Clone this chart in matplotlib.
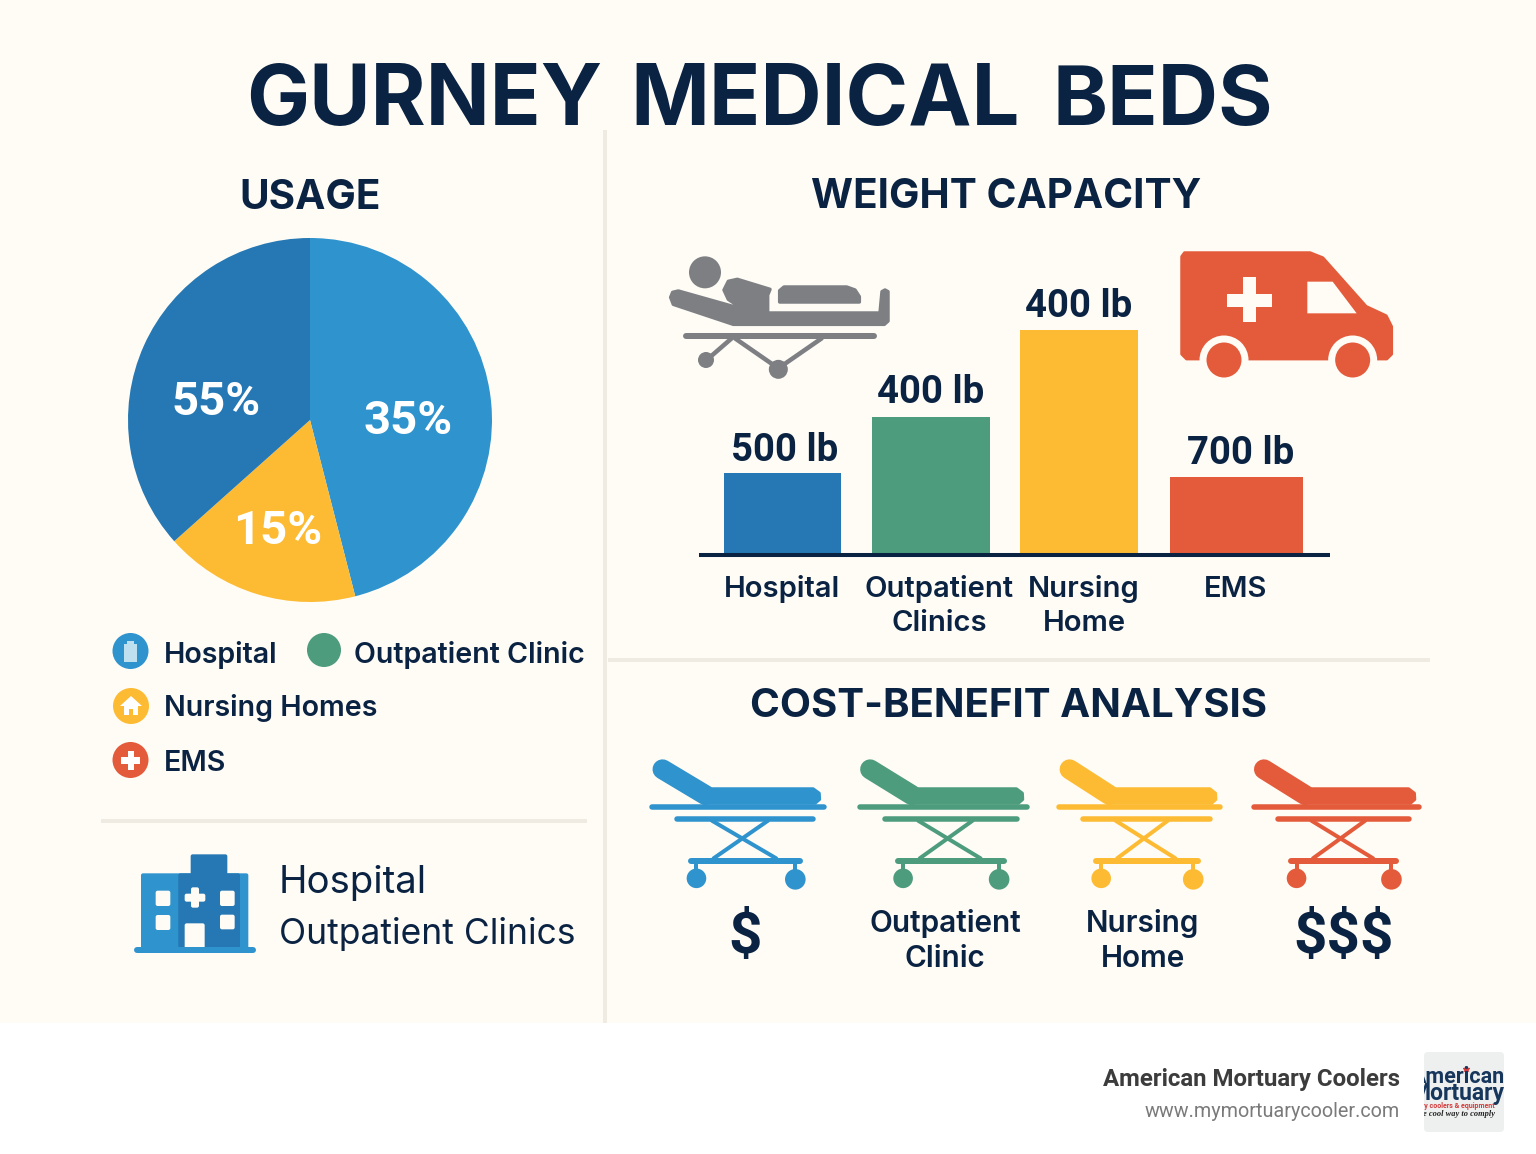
import matplotlib
matplotlib.use("Agg")
import matplotlib.pyplot as plt
from matplotlib.patches import Circle, Polygon, Rectangle, FancyBboxPatch
from matplotlib.transforms import Bbox, TransformedBbox

plt.rcParams['font.family'] = ['Inter', 'DejaVu Sans']

# --- data ---
pie_labels = ["35%", "15%", "55%"]
pie_values = [46, 17.4, 36.6]  # slice sizes as drawn, not the printed labels
bar_names = ["Hospital", "Outpatient\nClinics", "Nursing\nHome", "EMS"]
bar_labels = ["500 lb", "400 lb", "400 lb", "700 lb"]
bar_heights = [82, 138, 225, 78]  # as drawn in the picture
legend_names = ["Hospital", "Outpatient Clinic", "Nursing Homes", "EMS"]

BG = "#FFFCF6"
NAVY = "#0B2342"
BLUE = "#2F93CD"
DBLUE = "#2578B3"
GREEN = "#4D9C7D"
YELLOW = "#FDBB33"
RED = "#E35B3A"
GRAY = "#7D7F83"
LINE = "#EFEBE3"

W, H = 1536, 1154
fig = plt.figure(figsize=(W / 100, H / 100), dpi=100, facecolor="white")


def px_axes(z):
    ax = fig.add_axes([0, 0, 1, 1], zorder=z)
    ax.set_xlim(0, W)
    ax.set_ylim(H, 0)
    ax.axis("off")
    return ax


def rect_axes(x0, y0, x1, y1, z=2):
    return fig.add_axes([x0 / W, 1 - y1 / H, (x1 - x0) / W, (y1 - y0) / H], zorder=z)


back = px_axes(0)
fg = px_axes(5)

# background and dividers
back.add_patch(Rectangle((0, 0), W, 1023, color=BG, lw=0))
back.add_patch(Rectangle((603, 130), 4, 893, color=LINE, lw=0))
back.add_patch(Rectangle((608, 658), 822, 4, color=LINE, lw=0))
back.add_patch(Rectangle((101, 819), 486, 4, color=LINE, lw=0))


def label(x, y, s, size, weight="medium", ha="center", color=NAVY, **kw):
    return fg.text(x, y, s, fontsize=size, fontweight=weight, ha=ha, va="baseline", color=color, **kw)


def zc(pts, ox, oy, sx=1.0):
    return [(ox + px / 3 * sx, oy + py / 3) for px, py in pts]


def line(ax, pts, color, w):
    ax.plot([p[0] for p in pts], [p[1] for p in pts], color=color, lw=w * 0.72,
            solid_capstyle="round", solid_joinstyle="round")


def poly(ax, pts, color):
    ax.add_patch(Polygon(pts, facecolor=color, edgecolor=color, lw=2.5, joinstyle="round"))


def patient_icon(ox, oy):
    a = fg
    a.add_patch(Circle(zc([(165, 97)], ox, oy)[0], 16, color=GRAY, lw=0))
    body = [(62, 172), (68, 157), (85, 153), (280, 208), (235, 178), (222, 150), (235, 124), (262, 118),
            (360, 148), (353, 165), (353, 219), (690, 219), (696, 155), (705, 150), (714, 155),
            (714, 243), (703, 253), (250, 253), (70, 193)]
    poly(a, zc(body, ox, oy), GRAY)
    pillow = [(389, 186), (389, 152), (402, 141), (590, 141), (615, 150), (628, 170), (628, 186)]
    poly(a, zc(pillow, ox, oy), GRAY)
    line(a, zc([(108, 287), (672, 287)], ox, oy), GRAY, 6)
    line(a, zc([(170, 360), (245, 295)], ox, oy), GRAY, 4.5)
    line(a, zc([(255, 295), (385, 385), (515, 295)], ox, oy), GRAY, 4.5)
    a.add_patch(Circle(zc([(168, 360)], ox, oy)[0], 8, color=GRAY, lw=0))
    a.add_patch(Circle(zc([(385, 388)], ox, oy)[0], 9.5, color=GRAY, lw=0))


def ambulance_icon(ox, oy):
    a = fg
    body = [(66, 50), (74, 39), (450, 39), (488, 54), (618, 200), (678, 228), (694, 260), (694, 342),
            (680, 356), (80, 356), (66, 342)]
    poly(a, zc(body, ox, oy), RED)
    for c in [(192, 360), (578, 360)]:
        p = zc([c], ox, oy)[0]
        a.add_patch(Rectangle((p[0] - 24, p[1]), 48, 4, color=BG, lw=0))
        a.add_patch(Circle(p, 24.5, color=BG, lw=0))
        a.add_patch(Circle(p, 17.5, color=RED, lw=0))
    a.add_patch(Polygon(zc([(442, 125), (518, 125), (590, 220), (442, 220)], ox, oy), color=BG, lw=0))
    a.add_patch(Polygon(zc([(250, 110), (288, 110), (288, 162), (336, 162), (336, 200), (288, 200),
                            (288, 246), (250, 246), (250, 200), (200, 200), (200, 162), (250, 162)],
                           ox, oy), color=BG, lw=0))


def stretcher_icon(x0, width, color):
    a = fg
    oy = 750
    sx = width / 176
    ox = x0 - 8 * sx
    line(a, zc([(65, 58), (195, 135)], ox, oy, sx), color, 20)
    mat = [(190, 159), (214, 117), (522, 117), (540, 130), (541, 148), (528, 159)]
    poly(a, zc(mat, ox, oy, sx), color)
    line(a, zc([(32, 172), (556, 172)], ox, oy, sx), color, 5.5)
    line(a, zc([(110, 206), (523, 206)], ox, oy, sx), color, 5.5)
    line(a, zc([(215, 212), (410, 325)], ox, oy, sx), color, 4)
    line(a, zc([(385, 212), (220, 325)], ox, oy, sx), color, 4)
    line(a, zc([(152, 333), (483, 333)], ox, oy, sx), color, 6)
    line(a, zc([(168, 340), (168, 370)], ox, oy, sx), color, 4)
    line(a, zc([(468, 340), (468, 370)], ox, oy, sx), color, 4)
    a.add_patch(Circle(zc([(168, 385)], ox, oy, sx)[0], 9.8, color=color, lw=0))
    a.add_patch(Circle(zc([(468, 388)], ox, oy, sx)[0], 10.3, color=color, lw=0))


def hospital_icon(ox, oy):
    a = fg

    def box(x0, y0, x1, y1, c):
        p = zc([(x0, y0), (x1, y1)], ox, oy)
        a.add_patch(FancyBboxPatch(p[0], p[1][0] - p[0][0], p[1][1] - p[0][1], boxstyle="round,pad=0,rounding_size=2",
                                   color=c, lw=0))
    box(48, 85, 370, 318, BLUE)
    box(160, 85, 345, 318, DBLUE)
    box(197, 28, 307, 90, DBLUE)
    line(a, zc([(35, 316), (385, 316)], ox, oy), BLUE, 6)
    for b in [(92, 137, 136, 183), (92, 210, 136, 255), (285, 137, 329, 183), (285, 209, 329, 253),
              (179, 235, 239, 312), (179, 146, 241, 170), (198, 127, 222, 188)]:
        box(b[0], b[1], b[2], b[3], BG)


patient_icon(650, 240)
ambulance_icon(1160, 240)
hospital_icon(125, 845)
stretcher_icon(649, 174, BLUE)
stretcher_icon(857, 169, GREEN)
stretcher_icon(1057, 162, YELLOW)
stretcher_icon(1251, 167, RED)

# titles
label(246, 125, "GURNEY", 60.5, "bold", ha="left")
label(630, 125, "MEDICAL", 61, "bold", ha="left")
label(1052, 125, "BEDS", 60, "bold", ha="left")
label(310, 209, "USAGE", 29.2, "bold")
label(1006, 208, "WEIGHT CAPACITY", 29.2, "bold")
label(1008, 717, "COST-BENEFIT ANALYSIS", 29, "bold")

# pie
ax_pie = rect_axes(128, 237, 492, 603)
ax_pie.pie(pie_values, colors=[BLUE, YELLOW, DBLUE], startangle=90, counterclock=False, radius=1)
ax_pie.set_xlim(-1, 1)
ax_pie.set_ylim(-1, 1)
for (x, y), s in zip([(408, 434), (278, 544), (216, 415)], pie_labels):
    label(x, y, s, 34, "bold", color="white", family="Roboto")

# legend
leg_pos = [(130.5, 651, 18, BLUE), (324, 650, 17, GREEN), (131, 706, 18, YELLOW), (130.5, 760, 18, RED)]
leg_text = [(164, 663), (354, 663), (164, 716), (164, 771)]
for (cx, cy, r, c), (tx, ty), name in zip(leg_pos, leg_text, legend_names):
    fg.add_patch(Circle((cx, cy), r, color=c, lw=0))
    label(tx, ty, name, 20.6, "semibold", ha="left")
fg.add_patch(Rectangle((124, 644), 13, 18, color="#BFE0EE", lw=0))
fg.add_patch(Rectangle((127, 641), 7, 4, color="#BFE0EE", lw=0))
fg.add_patch(Polygon([(120, 706), (131, 696), (142, 706), (138, 706), (138, 715), (133, 715), (133, 709),
                      (129, 709), (129, 715), (124, 715), (124, 706)], color="white", lw=0))
fg.add_patch(Rectangle((121, 757), 19, 6.5, color="white", lw=0))
fg.add_patch(Rectangle((127.5, 750.5), 6.5, 19, color="white", lw=0))

# hospital note
label(279, 893, "Hospital", 27.6, "normal", ha="left")
label(279, 944, "Outpatient Clinics", 25.5, "normal", ha="left")

# bars
ax_bar = rect_axes(699, 330, 1330, 555)
ax_bar.patch.set_visible(False)
bar_centres = [782.5, 931, 1079, 1236]
bar_widths = [117, 118, 118, 133]
ax_bar.bar(bar_centres, bar_heights, width=bar_widths, color=[DBLUE, GREEN, YELLOW, RED])
ax_bar.set_xlim(699, 1330)
ax_bar.set_ylim(0, 225)
ax_bar.set_xticks([])
ax_bar.set_yticks([])
for s in ["top", "left", "right"]:
    ax_bar.spines[s].set_visible(False)
ax_bar.spines["bottom"].set_linewidth(2.9)
ax_bar.spines["bottom"].set_color(NAVY)
ax_bar.spines["bottom"].set_capstyle("butt")

for (x, y), s in zip([(785, 461), (931, 403), (1079, 317), (1241, 464)], bar_labels):
    label(x, y, s, 27.5, "bold", family="Roboto")
name_x = [782, 939, 1084, 1236]
for x, s in zip(name_x, bar_names):
    parts = s.split("\n")
    for i, part in enumerate(parts):
        label(x, 597 + i * 34, part, 21, "semibold")

# cost row
label(745, 953, "$", 42, "bold", family="Roboto")
label(945, 932, "Outpatient", 21.4, "semibold")
label(945, 967, "Clinic", 21.4, "semibold")
label(1143, 932, "Nursing", 21.4, "semibold")
label(1143, 967, "Home", 21.4, "semibold")
label(1344, 953, "$$$", 42, "bold", family="Roboto")

# footer
label(1400, 1086, "American Mortuary Coolers", 17.3, "bold", ha="right", color="#3C3C3C", family="Roboto")
label(1400, 1117, "www.mymortuarycooler.com", 14.2, "normal", ha="right", color="#7A7A7A", family="Roboto")
logo = FancyBboxPatch((1424, 1052), 80, 80, boxstyle="round,pad=0,rounding_size=4", color="#EEEFEF", lw=0)
fg.add_patch(logo)
logo_clip = TransformedBbox(Bbox([[1424, 1052], [1504, 1132]]), fg.transData)
for y, s, size, c, kw in [
    (1083, "American", 15.5, "#16365C", {"weight": "bold", "family": "Roboto"}),
    (1100, "Mortuary", 16.5, "#16365C", {"weight": "bold", "family": "Roboto"}),
    (1108, "Mortuary coolers & equipment", 5, "#D33A3A", {"weight": "bold", "family": "Roboto"}),
    (1116, "the cool way to comply", 6, "#222222", {"style": "italic", "family": "Liberation Serif", "weight": "bold"}),
]:
    t = fg.text(1505 if size > 10 else 1495, y, s, fontsize=size, ha="right", va="baseline", color=c,
                clip_on=True, **kw)
    t.set_clip_box(logo_clip)
fg.plot([1466], [1069], marker="*", color="#D33A3A", ms=4, lw=0)

fig.savefig("out.png", dpi=100)
